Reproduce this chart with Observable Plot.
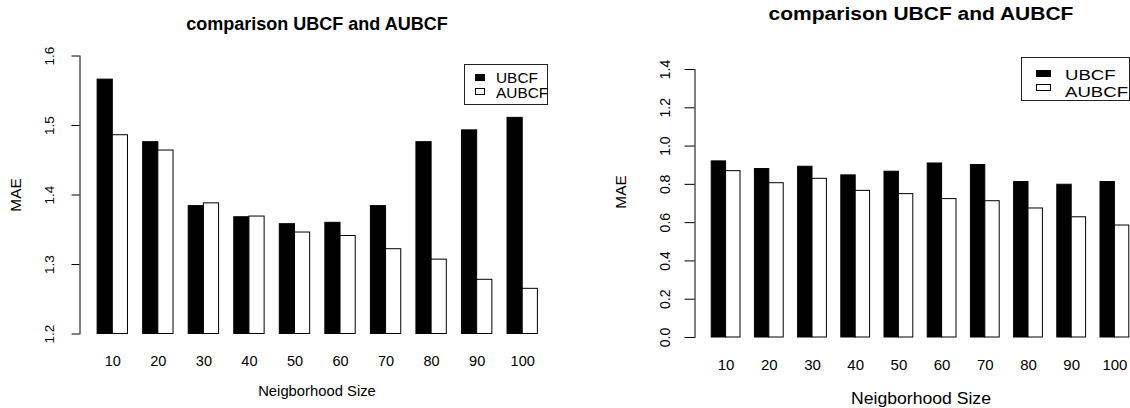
<!DOCTYPE html>
<html>
<head>
<meta charset="utf-8">
<script src="https://cdn.jsdelivr.net/npm/d3@7"></script>
<script src="https://cdn.jsdelivr.net/npm/@observablehq/plot@0.6"></script>
<style>
  html, body { margin: 0; padding: 0; background: #fff; }
  #stage { position: relative; width: 1130px; height: 408px; overflow: hidden; background: #fff;
           font-family: "Liberation Sans", Arial, sans-serif; color: #000; }
  .panel { position: absolute; top: 0; }
  .panel svg { display: block; max-width: none; }
  .txt { position: absolute; white-space: nowrap; }
</style>
</head>
<body>
<div id="stage"></div>
<script>
// ---------- data ----------
const sizes = ["10", "20", "30", "40", "50", "60", "70", "80", "90", "100"];
const seriesNames = ["UBCF", "AUBCF"];

const leftUBCF  = [1.566, 1.476, 1.384, 1.368, 1.358, 1.360, 1.384, 1.476, 1.493, 1.511];
const leftAUBCF = [1.486, 1.464, 1.388, 1.369, 1.346, 1.341, 1.322, 1.307, 1.278, 1.265];
const leftTicks = [1.2, 1.3, 1.4, 1.5, 1.6];

const rightUBCF  = [0.920, 0.880, 0.892, 0.847, 0.866, 0.909, 0.901, 0.812, 0.798, 0.812];
const rightAUBCF = [0.869, 0.806, 0.829, 0.766, 0.749, 0.723, 0.712, 0.674, 0.628, 0.585];
const rightTicks = [0.0, 0.2, 0.4, 0.6, 0.8, 1.0, 1.2, 1.4];

const titleText = "comparison UBCF and AUBCF";
const xTitle = "Neigborhood Size";
const yTitle = "MAE";

// ---------- helpers ----------
const stage = document.getElementById("stage");
const fmt = d3.format(".1f");

function panel(o) {
  const rows = sizes.flatMap((s, i) => [
    {size: s, series: seriesNames[0], value: o.ubcf[i]},
    {size: s, series: seriesNames[1], value: o.aubcf[i]}
  ]);
  const base = o.ticks[0];
  const common = {
    width: o.width, height: 408,
    marginLeft: o.ml, marginRight: o.mr, marginTop: o.mt, marginBottom: o.mb,
    style: {fontFamily: '"Liberation Sans", Arial, sans-serif', color: "#000", background: "transparent"},
    x: {type: "band", domain: sizes, paddingInner: 1 / 3, paddingOuter: 0.3867, round: false},
    y: {domain: [o.ticks[0], o.ticks[o.ticks.length - 1]]}
  };
  const probe = Plot.plot({...common, marks: [Plot.barY(rows, {x: "size", y: "value"})]});
  const half = probe.scale("x").bandwidth / 2;
  const svg = Plot.plot({
    ...common,
    marks: [
      Plot.barY(rows.filter(d => d.series === "UBCF"),
        {x: "size", y1: base, y2: "value", fill: "black", stroke: "black", strokeWidth: 1, insetLeft: 0, insetRight: half}),
      Plot.barY(rows.filter(d => d.series === "AUBCF"),
        {x: "size", y1: base, y2: "value", fill: "white", stroke: "black", strokeWidth: 1, insetLeft: half, insetRight: 0}),
      Plot.frame({anchor: "left", stroke: "#000"}),
      Plot.axisY({ticks: o.ticks, tickFormat: fmt, tickSize: o.yTickSize, tickRotate: -90,
        tickPadding: o.yTickPad, fontSize: o.yFont, label: null}),
      Plot.axisX({tickSize: 0, tickPadding: o.xTickPad, fontSize: o.xFont, label: null})
    ]
  });
  const wrap = document.createElement("div");
  wrap.className = "panel";
  wrap.style.left = o.left + "px";
  wrap.style.width = o.width + "px";
  wrap.appendChild(svg);
  stage.appendChild(wrap);
}

function text(str, o) {
  const d = document.createElement("div");
  d.className = "txt";
  d.textContent = str;
  const L = o.lh || 1;
  d.style.fontSize = o.size + "px";
  d.style.lineHeight = String(L);
  if (o.bold) d.style.fontWeight = "bold";
  const sx = o.sx || 1;
  if (o.rotate) {
    d.style.left = o.x + "px";
    d.style.top = o.y + "px";
    d.style.transform = `translate(-50%,-50%) rotate(-90deg)`;
  } else {
    d.style.top = (o.baseline - (L / 2 + 0.3465) * o.size) + "px";
    d.style.left = o.x + "px";
    if (o.anchor === "middle") {
      d.style.transform = `translateX(-50%) scaleX(${sx})`;
    } else {
      d.style.transformOrigin = "0 50%";
      d.style.transform = `scaleX(${sx})`;
    }
  }
  stage.appendChild(d);
}

function box(o) {
  const d = document.createElement("div");
  Object.assign(d.style, {
    position: "absolute", boxSizing: "border-box",
    left: o.x + "px", top: o.y + "px", width: o.w + "px", height: o.h + "px",
    background: o.fill || "transparent", border: o.border || "none"
  });
  stage.appendChild(d);
}

// ---------- left panel ----------
panel({left: 0, width: 565, ml: 79.5, mr: 10, mt: 55.5, mb: 74.5,
  ubcf: leftUBCF, aubcf: leftAUBCF, ticks: leftTicks,
  yTickSize: 8, yTickPad: 18, yFont: 13.5, xTickPad: 21.5, xFont: 14.5});

// ---------- right panel ----------
panel({left: 565, width: 600, ml: 129.5, mr: 19.5, mt: 69, mb: 71,
  ubcf: rightUBCF, aubcf: rightAUBCF, ticks: rightTicks,
  yTickSize: 10, yTickPad: 15, yFont: 14, xTickPad: 21.5, xFont: 15});

// ---------- titles & axis titles ----------
text(titleText, {x: 317, baseline: 30, size: 18, bold: true, anchor: "middle"});
text(titleText, {x: 921, baseline: 20.7, size: 17.5, bold: true, anchor: "middle", sx: 1.2});
text(xTitle, {x: 317, baseline: 397, size: 14.8, anchor: "middle"});
text(xTitle, {x: 921, baseline: 404.5, size: 16, anchor: "middle", sx: 1.1});
text(yTitle, {x: 16, y: 195, size: 15.4, rotate: true});
text(yTitle, {x: 621, y: 192, size: 15.4, rotate: true});

// ---------- legends ----------
box({x: 463.5, y: 64, w: 84, h: 41, border: "1px solid #222"});
box({x: 475, y: 74, w: 10, h: 7, fill: "#000"});
box({x: 475, y: 88, w: 10, h: 7, fill: "#fff", border: "1px solid #000"});
text(seriesNames[0], {x: 496, baseline: 83, size: 14, sx: 1.1, lh: 0.8});
text(seriesNames[1], {x: 496, baseline: 98.8, size: 14, sx: 1.1, lh: 0.8});

box({x: 1021, y: 56.5, w: 109, h: 44, border: "1px solid #222"});
box({x: 1036, y: 69.5, w: 15, h: 7, fill: "#000"});
box({x: 1036, y: 83.5, w: 15, h: 7, fill: "#fff", border: "1px solid #000"});
text(seriesNames[0], {x: 1065, baseline: 80.4, size: 15, sx: 1.24, lh: 0.8});
text(seriesNames[1], {x: 1065, baseline: 97.3, size: 15, sx: 1.24, lh: 0.8});
</script>
</body>
</html>
